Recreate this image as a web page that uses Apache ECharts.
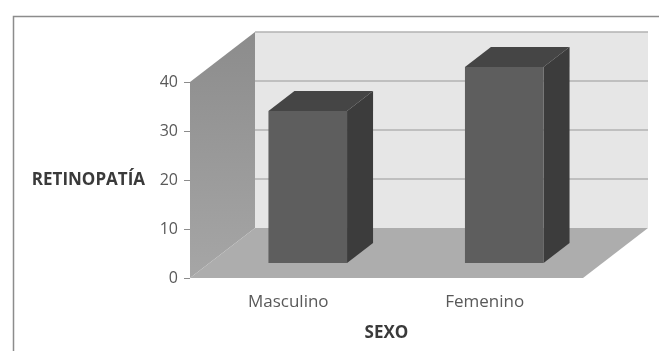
<!DOCTYPE html>
<html>
<head>
<meta charset="utf-8">
<script src="https://cdn.jsdelivr.net/npm/echarts@6/dist/echarts.min.js"></script>
<style>
  html, body { margin: 0; padding: 0; background: #ffffff; }
  #chart { width: 659px; height: 351px; }
</style>
</head>
<body>
<div id="chart"></div>
<script>
// Retinopatía por sexo
const categories = ['Masculino', 'Femenino'];
const retinopatia = [31, 40];
const yMin = 0;
const yMax = 40;
const yStep = 10;

// depth of the 3D box (pixels), and bar position inside that depth
const DEPTH_X = 65;
const DEPTH_Y = -50;
const BAR_FRONT = 0.3;
const BAR_BACK = 0.7;
const BAR_WIDTH = 0.4;

const textColor = '#595959';
const font = 'Open Sans';

const chart = echarts.init(document.getElementById('chart'), null, { renderer: 'canvas' });

function wallsRender(params, api) {
  const cs = params.coordSys;
  const x0 = cs.x, x1 = cs.x + cs.width;
  const yTop = api.coord([0, yMax])[1];
  const yBase = api.coord([0, yMin])[1];
  const children = [];
  // back wall
  children.push({
    type: 'rect',
    shape: { x: x0 + DEPTH_X, y: yTop + DEPTH_Y, width: x1 - x0, height: yBase - yTop },
    style: { fill: '#e6e6e6' }
  });
  // gridlines on the back wall
  for (let v = yMin + yStep; v <= yMax; v += yStep) {
    const y = api.coord([0, v])[1] + DEPTH_Y;
    children.push({
      type: 'line',
      shape: { x1: x0 + DEPTH_X, y1: y, x2: x1 + DEPTH_X, y2: y },
      style: { stroke: '#b2b2b2', lineWidth: 1.6 }
    });
  }
  // side wall
  children.push({
    type: 'polygon',
    shape: { points: [[x0, yTop], [x0 + DEPTH_X, yTop + DEPTH_Y], [x0 + DEPTH_X, yBase + DEPTH_Y], [x0, yBase]] },
    style: {
      fill: new echarts.graphic.LinearGradient(0, 0, 0, 1, [
        { offset: 0, color: '#8c8c8c' },
        { offset: 1, color: '#a6a6a6' }
      ])
    }
  });
  // floor
  children.push({
    type: 'polygon',
    shape: { points: [[x0, yBase], [x1, yBase], [x1 + DEPTH_X, yBase + DEPTH_Y], [x0 + DEPTH_X, yBase + DEPTH_Y]] },
    style: { fill: '#adadad' }
  });
  return { type: 'group', children: children };
}

function barRender(params, api) {
  const idx = api.value(0);
  const val = api.value(1);
  const c = api.coord([idx, val]);
  const base = api.coord([idx, yMin]);
  const bw = api.size([1, 0])[0] * BAR_WIDTH;
  const fx = DEPTH_X * BAR_FRONT, fy = DEPTH_Y * BAR_FRONT;
  const dx = DEPTH_X * (BAR_BACK - BAR_FRONT), dy = DEPTH_Y * (BAR_BACK - BAR_FRONT);
  const xl = c[0] - bw / 2 + fx, xr = c[0] + bw / 2 + fx;
  const yt = c[1] + fy, yb = base[1] + fy;
  return {
    type: 'group',
    children: [
      {
        type: 'polygon',
        shape: { points: [[xr, yt], [xr + dx, yt + dy], [xr + dx, yb + dy], [xr, yb]] },
        style: { fill: '#3c3c3c' }
      },
      {
        type: 'polygon',
        shape: { points: [[xl, yt], [xr, yt], [xr + dx, yt + dy], [xl + dx, yt + dy]] },
        style: { fill: '#454545' }
      },
      {
        type: 'rect',
        shape: { x: xl, y: yt, width: xr - xl, height: yb - yt },
        style: { fill: '#5e5e5e' }
      }
    ]
  };
}

chart.setOption({
  animation: false,
  backgroundColor: '#ffffff',
  graphic: [{
    type: 'rect',
    left: 11, top: 14,
    shape: { width: 700, height: 400 },
    style: { fill: 'none', stroke: '#8c8c8c', lineWidth: 1.5 },
    z: 0
  }],
  grid: { left: 190, right: 76, top: 82, bottom: 73 },
  xAxis: {
    type: 'category',
    data: categories,
    name: 'SEXO',
    nameLocation: 'middle',
    nameGap: 47,
    nameTextStyle: { color: '#3a3a3a', fontFamily: font, fontWeight: 'bold', fontSize: 17 },
    axisLine: { show: false },
    axisTick: { show: false },
    axisLabel: { color: textColor, fontFamily: font, fontSize: 17, margin: 16 }
  },
  yAxis: {
    type: 'value',
    min: yMin, max: yMax, interval: yStep,
    name: 'RETINOPATÍA',
    nameLocation: 'middle',
    nameRotate: 0,
    nameGap: 45,
    nameTextStyle: { color: '#3a3a3a', fontFamily: font, fontWeight: 'bold', fontSize: 17 },
    axisLine: { show: false },
    axisTick: { show: true, length: 6, lineStyle: { color: '#8c8c8c' } },
    axisLabel: { color: textColor, fontFamily: font, fontSize: 16, margin: 12 },
    splitLine: { show: false }
  },
  series: [
    {
      type: 'custom',
      renderItem: wallsRender,
      data: [[0, yMax]],
      z: 1,
      silent: true
    },
    {
      type: 'custom',
      renderItem: barRender,
      data: retinopatia.map((v, i) => [i, v]),
      encode: { x: 0, y: 1 },
      z: 2
    }
  ]
});
</script>
</body>
</html>
